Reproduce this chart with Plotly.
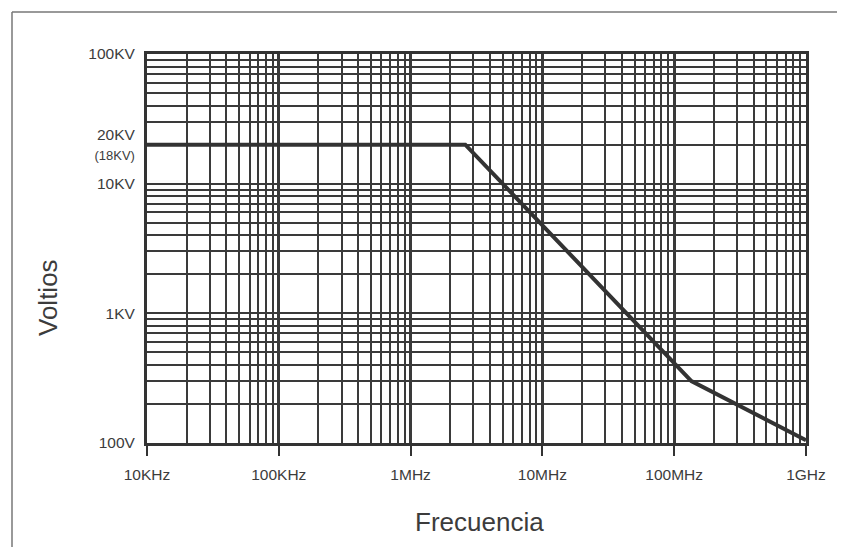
import plotly.graph_objects as go

# Data
freq_hz = [1e4, 2.6e6, 1.35e8, 1e9]
voltage_v = [20000, 20000, 300, 105]

x_tickvals = [1e4, 1e5, 1e6, 1e7, 1e8, 1e9]
x_ticktext = ["10KHz", "100KHz", "1MHz", "10MHz", "100MHz", "1GHz"]
y_tickvals = [100, 1000, 10000, 20000, 100000]
y_ticktext = ["100V", "1KV", "10KV",
              "20KV<br><span style='font-size:13px'>(18KV)</span>", "100KV"]

W, H = 845, 547
OFF = 8  # page body margin offset
# desired on-screen plot box
SX0, SX1, SY0, SY1 = 147, 806, 54, 443
L = SX0 - OFF
T = SY0 - OFF
R = W - (SX1 - OFF)
B = H - (SY1 - OFF)
pw, ph = W - L - R, H - T - B

def sx(px):  # screen px -> paper x
    return (px - SX0) / pw

def sy(py):  # screen px -> paper y
    return (SY1 - py) / ph

GRID = "#3a3a3a"
TXT = "#3c3c3c"
FONT = "Liberation Sans, Arial"

fig = go.Figure()
fig.add_trace(go.Scatter(
    x=freq_hz, y=voltage_v, mode="lines",
    line=dict(color="#333333", width=4),
    hoverinfo="skip", showlegend=False))

fig.update_xaxes(
    type="log", range=[4, 9],
    tickvals=x_tickvals, ticktext=x_ticktext,
    ticks="outside", ticklen=10, tickwidth=2, tickcolor="#333333",
    ticklabelstandoff=5,
    tickfont=dict(family=FONT, size=15.5, color=TXT),
    showgrid=True, gridcolor=GRID, gridwidth=3,
    minor=dict(dtick="D1", showgrid=True, gridcolor=GRID, gridwidth=1.5),
    showline=True, linecolor="#333333", linewidth=3, mirror=True,
    zeroline=False,
)
fig.update_yaxes(
    type="log", range=[2, 5],
    tickvals=y_tickvals, ticktext=y_ticktext,
    ticks="", ticklabelstandoff=6,
    tickfont=dict(family=FONT, size=15.5, color=TXT),
    showgrid=True, gridcolor=GRID, gridwidth=1.5,
    minor=dict(dtick="D1", showgrid=True, gridcolor=GRID, gridwidth=1.5),
    showline=True, linecolor="#333333", linewidth=3, mirror=True,
    zeroline=False,
)

# axis titles
fig.add_annotation(text="Frecuencia", xref="paper", yref="paper",
                   x=sx(479), y=sy(522), showarrow=False,
                   xanchor="center", yanchor="middle",
                   font=dict(family=FONT, size=26, color=TXT))
fig.add_annotation(text="Voltios", xref="paper", yref="paper",
                   x=sx(48), y=sy(298), showarrow=False, textangle=-90,
                   xanchor="center", yanchor="middle",
                   font=dict(family=FONT, size=26, color=TXT))

# outer frame lines (top and left)
fig.add_shape(type="line", xref="paper", yref="paper",
              x0=sx(12), x1=sx(W + 20), y0=sy(12), y1=sy(12),
              line=dict(color="#777777", width=1.5))
fig.add_shape(type="line", xref="paper", yref="paper",
              x0=sx(12), x1=sx(12), y0=sy(12), y1=sy(H + 20),
              line=dict(color="#777777", width=1.5))

fig.update_layout(
    width=W, height=H,
    margin=dict(l=L, r=R, t=T, b=B, autoexpand=False),
    paper_bgcolor="white", plot_bgcolor="white",
    showlegend=False,
)

fig.write_html("out.html")
